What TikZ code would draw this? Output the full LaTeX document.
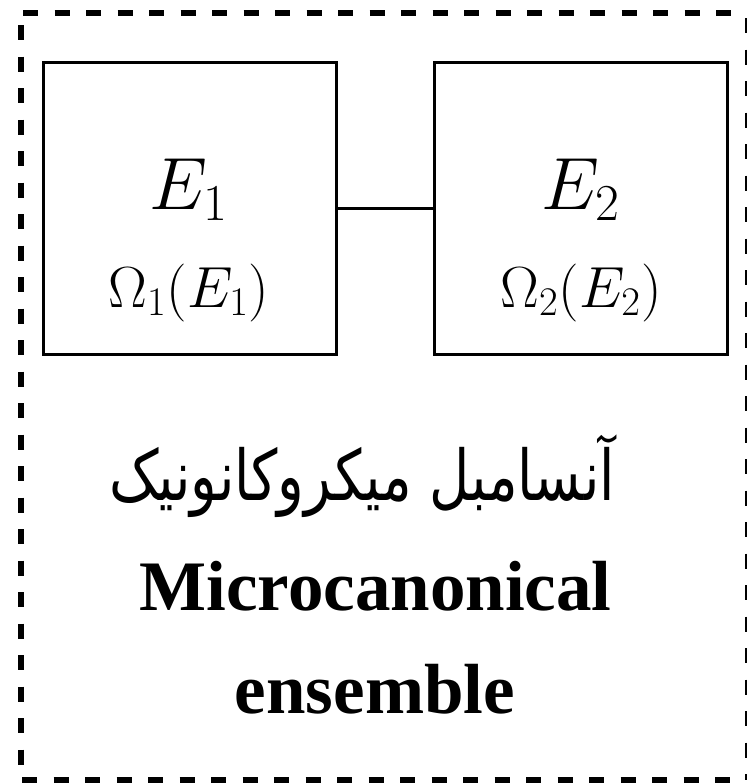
\documentclass[tikz,border=0pt]{standalone}
\usepackage{fix-cm}
\usepackage{fontspec}
\newfontfamily\arabicfont[Script=Arabic]{DejaVu Sans}
\newfontfamily\engfont{Liberation Serif}
\TeXXeTstate=1
\begin{document}
\begin{tikzpicture}[x=0.5pt,y=-0.5pt,
  sysbox/.style={draw,line width=1.5pt,minimum width=146.5pt,minimum height=146pt,inner sep=0pt},
  borderline/.style={line width=3pt,dash pattern=on 7.5pt off 8.25pt},
  thinborder/.style={line width=1pt,dash pattern=on 7.5pt off 8.25pt},
  link/.style={line width=1.5pt},
  bigmath/.style={anchor=base,inner sep=0pt,font=\fontsize{37}{40}\selectfont},
  smallmath/.style={anchor=base,inner sep=0pt,font=\fontsize{29}{32}\selectfont},
  engtext/.style={anchor=base,inner sep=0pt,font=\engfont\bfseries\fontsize{35.5}{40}\selectfont},
  fatext/.style={anchor=base,inner sep=0pt,font=\arabicfont\fontsize{35}{44}\selectfont}]
\useasboundingbox (0,0) rectangle (746,783);
% dashed frame
\coordinate (tl) at (23,13);
\coordinate (tr) at (746,13);
\coordinate (lt) at (20.5,25);
\coordinate (lb) at (20.5,779);
\coordinate (bl) at (22,780);
\coordinate (br) at (746,780);
\coordinate (rt) at (746,18);
\coordinate (rb) at (746,780);
\draw[borderline] (tl) -- (tr);
\draw[borderline] (lt) -- (lb);
\draw[borderline] (bl) -- (br);
\draw[thinborder] (rt) -- (rb);
% boxes
\node[sysbox] (b1) at (190,208.5) {};
\node[sysbox] (b2) at (581,208.5) {};
\draw[link] (b1.east) -- (b2.west);
% texts in boxes
\node[bigmath] (e1) at (189,209) {$E_1$};
\node[smallmath] (o1) at (189,307) {$\Omega_1(E_1)$};
\node[bigmath] (e2) at (581,209) {$E_2$};
\node[smallmath] (o2) at (581,307) {$\Omega_2(E_2)$};
% captions
\node[fatext] (fa) at (362,500) {\scalebox{0.79}[1]{\beginR آنسامبل میکروکانونیک\endR}};
\node[engtext] (en1) at (375.5,610) {Microcanonical};
\node[engtext] (en2) at (375,713) {ensemble};
\end{tikzpicture}
\end{document}
